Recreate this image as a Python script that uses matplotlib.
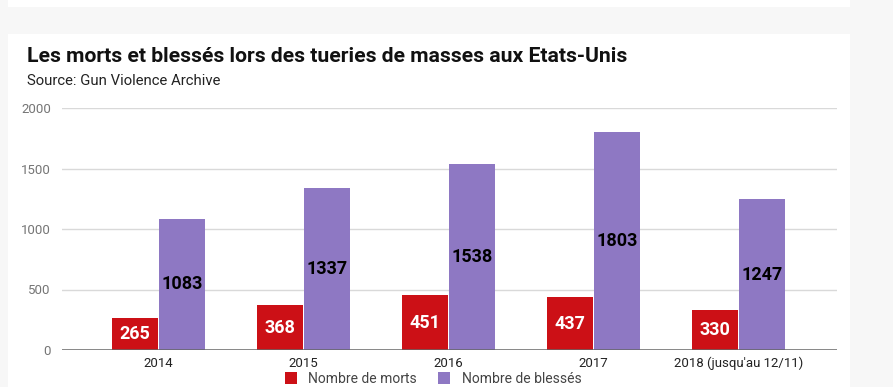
import matplotlib.pyplot as plt
import numpy as np
from matplotlib.patches import Rectangle

years = ["2014", "2015", "2016", "2017", "2018 (jusqu'au 12/11)"]
morts = [265, 368, 451, 437, 330]
blesses = [1083, 1337, 1538, 1803, 1247]
series_names = ["Nombre de morts", "Nombre de blessés"]
yticks = [0, 500, 1000, 1500, 2000]

RED = "#cc1016"
PURPLE = "#8e78c3"

plt.rcParams['font.family'] = ['Roboto', 'DejaVu Sans']

W, H = 893, 387
fig = plt.figure(figsize=(W / 100, H / 100), dpi=100)
fig.patch.set_facecolor("#f7f7f7")

# white cards behind everything
fig.patches.append(Rectangle((8 / W, 1 - 7 / H), 842 / W, 7 / H,
                             transform=fig.transFigure, facecolor="white", edgecolor="none", zorder=-5))
fig.patches.append(Rectangle((8 / W, 0), 842 / W, 1 - 34 / H,
                             transform=fig.transFigure, facecolor="white", edgecolor="none", zorder=-5))

fig.text(27 / W, 1 - 56 / H, "Les morts et blessés lors des tueries de masses aux Etats-Unis",
         fontsize=15.2, fontweight="bold", color="#111111", va="center", ha="left")
fig.text(27 / W, 1 - 81 / H, "Source: Gun Violence Archive",
         fontsize=10.7, color="#222222", va="center", ha="left")

# axes: plot area x 62..837, y 108..350
ax = fig.add_axes([62 / W, 1 - 350 / H, 775 / W, 242 / H])
ax.set_zorder(2)
ax.patch.set_visible(False)

x = np.arange(len(years))
bw = 0.317
b1 = ax.bar(x - bw / 2 - 0.003, morts, width=bw, color=RED, label=series_names[0], zorder=3)
b2 = ax.bar(x + bw / 2 + 0.003, blesses, width=bw, color=PURPLE, label=series_names[1], zorder=3)

for rect, v in zip(b1, morts):
    ax.text(rect.get_x() + rect.get_width() / 2, v / 2, str(v), ha="center", va="center",
            color="white", fontsize=13, fontweight="bold", zorder=4)
for rect, v in zip(b2, blesses):
    ax.text(rect.get_x() + rect.get_width() / 2, v / 2, str(v), ha="center", va="center",
            color="black", fontsize=13, fontweight="bold", zorder=4)

ax.set_ylim(0, 2000)
ax.set_xlim(-96.5 / 145, 4 + 98.5 / 145)
ax.set_yticks(yticks)
ax.yaxis.grid(True, color="#d9d9d9", linewidth=1, zorder=0)
ax.set_axisbelow(True)
ax.axhline(0, color="#666666", linewidth=1.8, zorder=5)
for s in ax.spines.values():
    s.set_visible(False)
ax.tick_params(axis="y", length=0, labelsize=9.5, labelcolor="#757575", pad=8)
ax.tick_params(axis="x", length=0, labelsize=9.5, labelcolor="#222222", pad=5)
ax.set_xticks(x)
ax.set_xticklabels(years)

fig.legend(handles=[b1, b2], labels=series_names, loc="center",
           bbox_to_anchor=(433 / W, 1 - 379 / H), ncol=2, frameon=False,
           fontsize=10, labelcolor="#444444", handlelength=0.9, handleheight=0.9,
           columnspacing=1.5, handletextpad=0.8)

fig.savefig("out.png", dpi=100, facecolor=fig.get_facecolor())
